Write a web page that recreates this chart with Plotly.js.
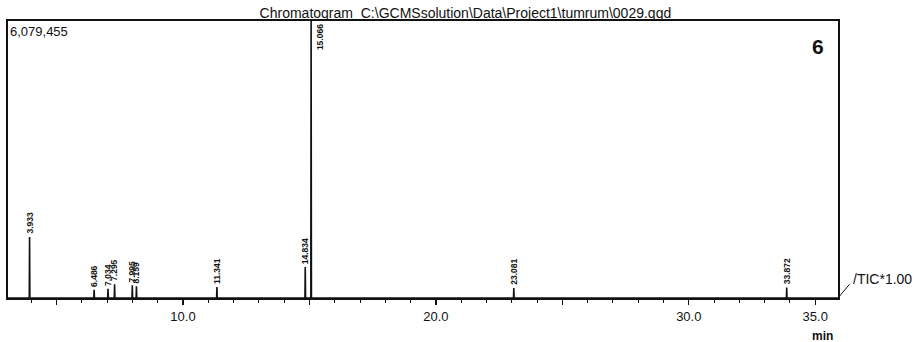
<!DOCTYPE html>
<html>
<head>
<meta charset="utf-8">
<script src="https://cdn.plot.ly/plotly-3.0.1.min.js"></script>
<style>html,body{margin:0;padding:0;background:#fff;}#chart{width:918px;height:342px;}</style>
</head>
<body>
<div id="chart"></div>
<script>
// Peak retention times (min) and heights (counts)
const retentionTimes = [3.933, 6.486, 7.034, 7.295, 7.995, 8.159, 11.341, 14.834, 15.066, 23.081, 33.872];
const peakHeights    = [1340000, 180000, 200000, 300000, 280000, 260000, 240000, 680000, 6079455, 220000, 230000];
const peakLabels     = ["3.933", "6.486", "7.034", "7.295", "7.995", "8.159", "11.341", "14.834", "15.066", "23.081", "33.872"];
const tickValues = [5, 10, 15, 20, 25, 30, 35];
const tickLabels = ["", "10.0", "", "20.0", "", "30.0", "35.0"];
const fullScale = 6079455;
const timeRange = [3.08, 35.9];

// build the trace from the data arrays
const xs = [timeRange[0]], ys = [0];
const halfWidth = 0.012;
retentionTimes.forEach((t, i) => {
  xs.push(t - halfWidth, t, t + halfWidth);
  ys.push(0, peakHeights[i], 0);
});
xs.push(timeRange[1]); ys.push(0);

const ink = '#111';
const fam = 'Liberation Sans, Arial, sans-serif';
const annotations = retentionTimes.map((t, i) => {
  const isTop = peakHeights[i] >= fullScale * 0.98;
  return {
    x: t, y: isTop ? fullScale : peakHeights[i], xref: 'x', yref: 'y',
    text: '<b>' + peakLabels[i] + '</b>', showarrow: false, textangle: -90,
    font: {family: fam, size: 8.5, color: ink},
    xanchor: 'center', yanchor: isTop ? 'top' : 'bottom',
    xshift: isTop ? 9 : 0, yshift: isTop ? -1 : 1
  };
});
annotations.push(
  {x: 0, y: 1, xref: 'paper', yref: 'paper', text: '6,079,455', showarrow: false,
   xanchor: 'left', yanchor: 'top', xshift: 0, yshift: -1,
   font: {family: fam, size: 13, color: ink}},
  {x: 0.985, y: 0.955, xref: 'paper', yref: 'paper', text: '<b>6</b>', showarrow: false,
   xanchor: 'right', yanchor: 'top',
   font: {family: fam, size: 21, color: ink}},
  {x: 1, y: 0.07, xref: 'paper', yref: 'paper', text: '/TIC*1.00', showarrow: false,
   xanchor: 'left', yanchor: 'middle', xshift: 13,
   font: {family: fam, size: 14, color: ink}},
  {x: 35.3, y: 0, xref: 'x', yref: 'paper', text: '<b>min</b>', showarrow: false,
   xanchor: 'center', yanchor: 'middle', yshift: -38,
   font: {family: fam, size: 12, color: ink}}
);

const trace = {
  x: xs, y: ys, type: 'scatter', mode: 'lines',
  line: {color: ink, width: 1.6}, hoverinfo: 'skip', showlegend: false
};

const layout = {
  width: 918, height: 342,
  margin: {l: 8, r: 80, t: 21, b: 44},
  paper_bgcolor: '#fff', plot_bgcolor: '#fff',
  title: {text: 'Chromatogram  C:\\GCMSsolution\\Data\\Project1\\tumrum\\0029.qgd',
          x: 0.507, xanchor: 'center', xref: 'container', y: 0.946, yanchor: 'bottom', yref: 'container',
          font: {family: fam, size: 14, color: ink}},
  xaxis: {range: timeRange, showgrid: false, zeroline: false,
          showline: true, mirror: true, linecolor: ink, linewidth: 2,
          tickmode: 'array', tickvals: tickValues, ticktext: tickLabels,
          ticks: 'outside', ticklen: 5, tickwidth: 1.2, tickcolor: ink,
          tickfont: {family: fam, size: 13, color: ink},
          minor: {dtick: 1, tick0: 0, ticks: 'outside', ticklen: 3, tickwidth: 1, tickcolor: ink, showgrid: false}},
  yaxis: {range: [0, fullScale], showgrid: false, zeroline: false,
          showline: true, mirror: true, linecolor: ink, linewidth: 2,
          showticklabels: false, ticks: ''},
  shapes: [{type: 'line', xref: 'paper', yref: 'paper', x0: 1, y0: 0, x1: 1.014, y1: 0.05,
            line: {color: ink, width: 1}}],
  annotations: annotations
};

Plotly.newPlot('chart', [trace], layout, {displayModeBar: false, staticPlot: true});
</script>
</body>
</html>
